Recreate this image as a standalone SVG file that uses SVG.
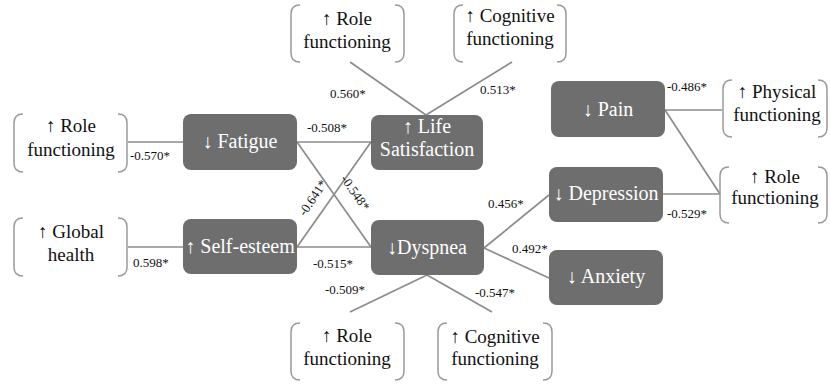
<svg xmlns="http://www.w3.org/2000/svg" width="830" height="384" viewBox="0 0 830 384">
<defs>
<style>
.box{fill:#6e6e6e;}
.br{fill:none;stroke:#9a9a9a;stroke-width:1.5;}
.ln{stroke:#8c8c8c;stroke-width:1.7;fill:none;}
</style>
</defs>
<rect width="830" height="384" fill="#ffffff"/>
<g id="connectors">
<line class="ln" x1="128" y1="142" x2="183" y2="142"/>
<line class="ln" x1="128" y1="247" x2="183" y2="247"/>
<line class="ln" x1="297" y1="142" x2="371" y2="142"/>
<line class="ln" x1="297" y1="247" x2="371" y2="247"/>
<line class="ln" x1="297" y1="142" x2="371" y2="247"/>
<line class="ln" x1="297" y1="247" x2="371" y2="142"/>
<line class="ln" x1="350" y1="62" x2="426" y2="115"/>
<line class="ln" x1="512" y1="62" x2="426" y2="115"/>
<line class="ln" x1="427" y1="275" x2="350" y2="312"/>
<line class="ln" x1="427" y1="275" x2="492" y2="312"/>
<line class="ln" x1="484" y1="248" x2="549" y2="195"/>
<line class="ln" x1="484" y1="248" x2="549" y2="278"/>
<line class="ln" x1="665" y1="110" x2="722" y2="110"/>
<line class="ln" x1="665" y1="110" x2="720" y2="194"/>
<line class="ln" x1="663" y1="194" x2="720" y2="194"/>
<text font-family="Times New Roman, Liberation Serif, serif" font-size="13" fill="#111" x="130" y="160">-0.570*</text>
<text font-family="Times New Roman, Liberation Serif, serif" font-size="13" fill="#111" x="133" y="267">0.598*</text>
<text font-family="Times New Roman, Liberation Serif, serif" font-size="13" fill="#111" x="307" y="132">-0.508*</text>
<text font-family="Times New Roman, Liberation Serif, serif" font-size="13" fill="#111" x="330" y="98">0.560*</text>
<text font-family="Times New Roman, Liberation Serif, serif" font-size="13" fill="#111" x="480" y="94">0.513*</text>
<text font-family="Times New Roman, Liberation Serif, serif" font-size="13" fill="#111" x="667" y="91">-0.486*</text>
<text font-family="Times New Roman, Liberation Serif, serif" font-size="13" fill="#111" x="667" y="218">-0.529*</text>
<text font-family="Times New Roman, Liberation Serif, serif" font-size="13" fill="#111" x="488" y="208">0.456*</text>
<text font-family="Times New Roman, Liberation Serif, serif" font-size="13" fill="#111" x="512" y="253">0.492*</text>
<text font-family="Times New Roman, Liberation Serif, serif" font-size="13" fill="#111" x="475" y="297">-0.547*</text>
<text font-family="Times New Roman, Liberation Serif, serif" font-size="13" fill="#111" x="313" y="268">-0.515*</text>
<text font-family="Times New Roman, Liberation Serif, serif" font-size="13" fill="#111" x="325" y="294">-0.509*</text>
<text font-family="Times New Roman, Liberation Serif, serif" font-size="13" fill="#111" transform="translate(313,198) rotate(-56)" text-anchor="middle" dy="4">-0.641*</text>
<text font-family="Times New Roman, Liberation Serif, serif" font-size="13" fill="#111" transform="translate(355,193) rotate(55)" text-anchor="middle" dy="4">-0.548*</text>
</g>
<g id="fatigue">
<rect class="box" x="183" y="114" width="114" height="56" rx="8"/>
<text font-family="Times New Roman, Liberation Serif, serif" font-size="20" fill="#fff" text-anchor="middle" x="240" y="148">↓ Fatigue</text>
</g>
<g id="life-satisfaction">
<rect class="box" x="371" y="115" width="112" height="55" rx="8"/>
<text font-family="Times New Roman, Liberation Serif, serif" font-size="20" fill="#fff" text-anchor="middle" x="427" y="133">↑ Life</text>
<text font-family="Times New Roman, Liberation Serif, serif" font-size="20" fill="#fff" text-anchor="middle" x="427" y="156">Satisfaction</text>
</g>
<g id="self-esteem">
<rect class="box" x="183" y="219" width="114" height="55" rx="8"/>
<text font-family="Times New Roman, Liberation Serif, serif" font-size="20" fill="#fff" text-anchor="middle" x="240" y="253">↑ Self-esteem</text>
</g>
<g id="dyspnea">
<rect class="box" x="371" y="220" width="113" height="55" rx="8"/>
<text font-family="Times New Roman, Liberation Serif, serif" font-size="20" fill="#fff" text-anchor="middle" x="427" y="254">↓Dyspnea</text>
</g>
<g id="pain">
<rect class="box" x="551" y="81" width="114" height="56" rx="8"/>
<text font-family="Times New Roman, Liberation Serif, serif" font-size="20" fill="#fff" text-anchor="middle" x="608" y="116">↓ Pain</text>
</g>
<g id="depression">
<rect class="box" x="549" y="167" width="114" height="55" rx="8"/>
<text font-family="Times New Roman, Liberation Serif, serif" font-size="20" fill="#fff" text-anchor="middle" x="606" y="200">↓ Depression</text>
</g>
<g id="anxiety">
<rect class="box" x="549" y="250" width="114" height="55" rx="8"/>
<text font-family="Times New Roman, Liberation Serif, serif" font-size="20" fill="#fff" text-anchor="middle" x="606" y="283">↓ Anxiety</text>
</g>
<g id="left-role">
<path class="br" d="M23,114 Q14,114 14,123 L14,163 Q14,172 23,172 M118,114 Q127,114 127,123 L127,163 Q127,172 118,172"/>
<text font-family="Times New Roman, Liberation Serif, serif" font-size="19" fill="#111" text-anchor="middle" x="71" y="132">↑ Role</text>
<text font-family="Times New Roman, Liberation Serif, serif" font-size="19" fill="#111" text-anchor="middle" x="71" y="156">functioning</text>
</g>
<g id="global-health">
<path class="br" d="M23,218 Q14,218 14,227 L14,267 Q14,276 23,276 M118,218 Q127,218 127,227 L127,267 Q127,276 118,276"/>
<text font-family="Times New Roman, Liberation Serif, serif" font-size="19" fill="#111" text-anchor="middle" x="71" y="238">↑ Global</text>
<text font-family="Times New Roman, Liberation Serif, serif" font-size="19" fill="#111" text-anchor="middle" x="71" y="261">health</text>
</g>
<g id="top-role">
<path class="br" d="M300,5 Q291,5 291,14 L291,53 Q291,62 300,62 M395,5 Q404,5 404,14 L404,53 Q404,62 395,62"/>
<text font-family="Times New Roman, Liberation Serif, serif" font-size="19" fill="#111" text-anchor="middle" x="347" y="25">↑ Role</text>
<text font-family="Times New Roman, Liberation Serif, serif" font-size="19" fill="#111" text-anchor="middle" x="347" y="48">functioning</text>
</g>
<g id="top-cognitive">
<path class="br" d="M463,5 Q454,5 454,14 L454,53 Q454,62 463,62 M557,5 Q566,5 566,14 L566,53 Q566,62 557,62"/>
<text font-family="Times New Roman, Liberation Serif, serif" font-size="19" fill="#111" text-anchor="middle" x="510" y="22">↑ Cognitive</text>
<text font-family="Times New Roman, Liberation Serif, serif" font-size="19" fill="#111" text-anchor="middle" x="510" y="45">functioning</text>
</g>
<g id="physical-functioning">
<path class="br" d="M732,80 Q723,80 723,89 L723,128 Q723,137 732,137 M818,80 Q827,80 827,89 L827,128 Q827,137 818,137"/>
<text font-family="Times New Roman, Liberation Serif, serif" font-size="19" fill="#111" text-anchor="middle" x="777" y="98">↑ Physical</text>
<text font-family="Times New Roman, Liberation Serif, serif" font-size="19" fill="#111" text-anchor="middle" x="777" y="121">functioning</text>
</g>
<g id="right-role">
<path class="br" d="M729,167 Q720,167 720,176 L720,214 Q720,223 729,223 M818,167 Q827,167 827,176 L827,214 Q827,223 818,223"/>
<text font-family="Times New Roman, Liberation Serif, serif" font-size="19" fill="#111" text-anchor="middle" x="775" y="183">↑ Role</text>
<text font-family="Times New Roman, Liberation Serif, serif" font-size="19" fill="#111" text-anchor="middle" x="775" y="204">functioning</text>
</g>
<g id="bottom-role">
<path class="br" d="M300,323 Q291,323 291,332 L291,371 Q291,380 300,380 M395,323 Q404,323 404,332 L404,371 Q404,380 395,380"/>
<text font-family="Times New Roman, Liberation Serif, serif" font-size="19" fill="#111" text-anchor="middle" x="347" y="342">↑ Role</text>
<text font-family="Times New Roman, Liberation Serif, serif" font-size="19" fill="#111" text-anchor="middle" x="347" y="365">functioning</text>
</g>
<g id="bottom-cognitive">
<path class="br" d="M447,323 Q438,323 438,332 L438,371 Q438,380 447,380 M543,323 Q552,323 552,332 L552,371 Q552,380 543,380"/>
<text font-family="Times New Roman, Liberation Serif, serif" font-size="19" fill="#111" text-anchor="middle" x="495" y="343">↑ Cognitive</text>
<text font-family="Times New Roman, Liberation Serif, serif" font-size="19" fill="#111" text-anchor="middle" x="495" y="365">functioning</text>
</g>
</svg>
